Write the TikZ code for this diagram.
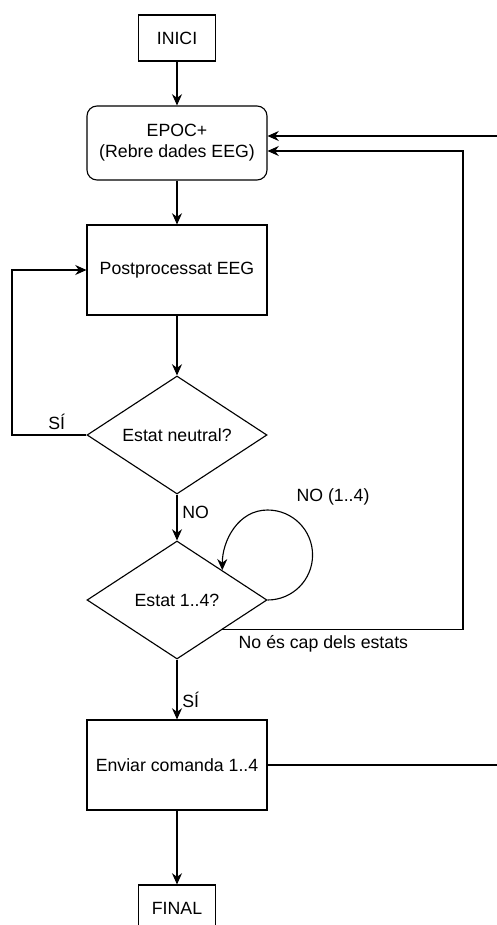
\documentclass[tikz,border=0pt]{standalone}
\usepackage{fontspec}
\setmainfont{Liberation Sans}
\usetikzlibrary{shapes.geometric,arrows.meta}

\begin{document}
\begin{tikzpicture}
    [line width=0.8pt,
    >={Stealth[length=2.8mm,width=2.5mm]},
    font=\fontsize{12.6}{15}\selectfont,
    caja/.style = {draw, rectangle, inner sep=0pt,
                minimum width=4.5cm},
    extremo/.style = {draw, rectangle, inner sep=0pt,
                minimum width=1.925cm, minimum height=1.15cm},
    rombo/.style = {draw, diamond, inner sep=0pt, aspect=1.5,
                minimum width=4.5cm, minimum height=2.95cm}]
    \useasboundingbox (0,0) rectangle (12.4,-23.125);
    % Inicio
    \node[extremo] (inici) at (4.425,-0.95) {INICI};
    % Lectura EPOC+
    \node[caja, rounded corners=0.25cm, minimum height=1.85cm,
        align=center] (epoc) at (4.425,-3.575) {EPOC+\\(Rebre dades EEG)};
    % Postprocesado
    \node[caja, minimum height=2.25cm] (post) at (4.425,-6.75) {Postprocessat EEG};
    % Decisiones
    \node[rombo] (neutral) at (4.425,-10.875) {Estat neutral?};
    \node[rombo] (estat) at (4.425,-15.0) {Estat 1..4?};
    % Enviar y final
    \node[caja, minimum height=2.25cm] (enviar) at (4.425,-19.125) {Enviar comanda 1..4};
    \node[extremo] (final) at (4.425,-22.7) {FINAL};
    % Retornos
    \coordinate (retA) at (11.575,0);
    \coordinate (retB) at (12.6,0);
    \coordinate (retC) at (0.3,0);
    % Flechas
    \draw[->] (inici) -- (epoc);
    \draw[->] (epoc) -- (post);
    \draw[->] (post) -- (neutral);
    \draw[->] (neutral.west) -- node[above, pos=0.4] {SÍ} (neutral.west -| retC)
        |- (post.west);
    \draw[->] (neutral) -- node[right, pos=0.38] {NO} (estat);
    \draw[->] (estat.east) to[out=0,in=-90] ++(1.125,1.125)
        to[out=90,in=0] ++(-1.125,1.125) to[out=180,in=90] (estat.north east);
    \node (bucle) at (8.325,-12.425) {NO (1..4)};
    \draw[->] (estat.south east) -- node[below, pos=0.42] {No és cap dels estats}
        (estat.south east -| retA) |- ([yshift=-0.2cm]epoc.east);
    \draw[->] (estat) -- node[right, pos=0.67] {SÍ} (enviar);
    \draw[->] (enviar.east) -- (enviar.east -| retB) |- ([yshift=0.175cm]epoc.east);
    \draw[->] (enviar) -- (final);
\end{tikzpicture}
\end{document}
